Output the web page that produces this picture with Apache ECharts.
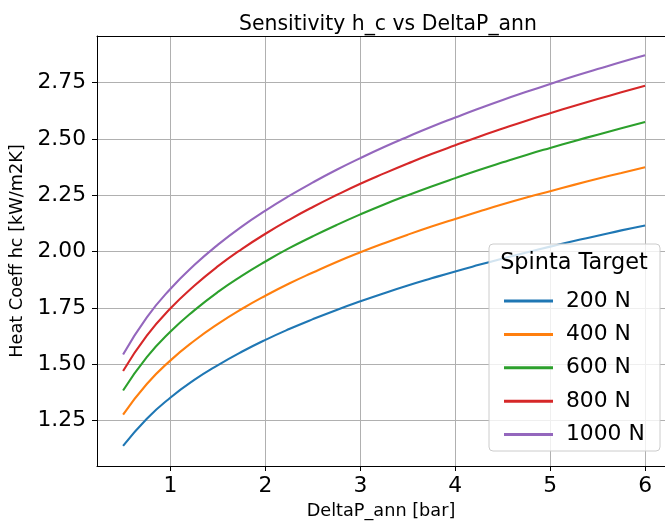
<!DOCTYPE html>
<html>
<head>
<meta charset="utf-8">
<script src="https://cdn.jsdelivr.net/npm/echarts@6/dist/echarts.min.js"></script>
<style>html,body{margin:0;padding:0;background:#fff}#c{width:665px;height:525px}</style>
</head>
<body>
<div id="c"></div>
<script>
const deltaP = [0.5, 0.75, 1.0, 1.25, 1.5, 1.75, 2.0, 2.25, 2.5, 2.75, 3.0, 3.25, 3.5, 3.75, 4.0, 4.25, 4.5, 4.75, 5.0, 5.25, 5.5, 5.75, 6.0];
const seriesNames = ['200 N', '400 N', '600 N', '800 N', '1000 N'];
const h200  = [1.137, 1.258, 1.352, 1.430, 1.496, 1.555, 1.608, 1.656, 1.700, 1.741, 1.779, 1.815, 1.849, 1.881, 1.912, 1.941, 1.969, 1.996, 2.022, 2.047, 2.070, 2.094, 2.116];
const h400  = [1.276, 1.412, 1.517, 1.604, 1.679, 1.745, 1.804, 1.858, 1.907, 1.954, 1.997, 2.037, 2.075, 2.111, 2.145, 2.178, 2.210, 2.240, 2.268, 2.296, 2.323, 2.349, 2.374];
const h600  = [1.383, 1.531, 1.645, 1.739, 1.821, 1.892, 1.956, 2.015, 2.068, 2.118, 2.165, 2.209, 2.250, 2.289, 2.326, 2.362, 2.396, 2.429, 2.460, 2.490, 2.519, 2.547, 2.575];
const h800  = [1.470, 1.627, 1.748, 1.848, 1.935, 2.011, 2.079, 2.141, 2.198, 2.251, 2.301, 2.347, 2.391, 2.433, 2.472, 2.510, 2.546, 2.581, 2.614, 2.646, 2.677, 2.707, 2.736];
const h1000 = [1.543, 1.708, 1.835, 1.940, 2.031, 2.111, 2.182, 2.247, 2.307, 2.363, 2.415, 2.464, 2.510, 2.554, 2.595, 2.635, 2.673, 2.709, 2.744, 2.778, 2.810, 2.842, 2.872];
const xTicks = [1, 2, 3, 4, 5, 6];
const yTicks = [1.25, 1.5, 1.75, 2.0, 2.25, 2.5, 2.75];
const colors = ['#1f77b4', '#ff7f0e', '#2ca02c', '#d62728', '#9467bd'];
const allValues = [h200, h400, h600, h800, h1000];

const font = 'DejaVu Sans';
const xMin = 0.225, xMax = 6.21, yMin = 1.048, yMax = 2.957;
const chart = echarts.init(document.getElementById('c'), null, {renderer: 'canvas'});
chart.setOption({
  animation: false,
  color: colors,
  title: {
    text: 'Sensitivity h_c vs DeltaP_ann',
    left: 383, top: 10, textAlign: 'center',
    textStyle: {fontFamily: font, fontSize: 20.4, fontWeight: 'normal', color: '#000'}
  },
  grid: {left: 97, right: 0, top: 36, bottom: 59},
  xAxis: [{
    type: 'value', min: xMin, max: xMax,
    name: 'DeltaP_ann [bar]', nameLocation: 'middle', nameGap: 35,
    nameTextStyle: {fontFamily: font, fontSize: 17.7, color: '#000'},
    axisLine: {show: true, onZero: false, lineStyle: {color: '#000', width: 1}},
    axisTick: {show: true, length: 5, lineStyle: {color: '#000'}, customValues: xTicks},
    axisLabel: {fontFamily: font, fontSize: 21.8, color: '#000', margin: 9, customValues: xTicks},
    splitLine: {show: true, lineStyle: {color: '#b0b0b0', width: 1}}
  }, {
    type: 'value', position: 'top', min: xMin, max: xMax,
    axisLine: {show: true, onZero: false, lineStyle: {color: '#000', width: 1}},
    axisTick: {show: false}, axisLabel: {show: false}, splitLine: {show: false}
  }],
  yAxis: {
    type: 'value', min: yMin, max: yMax,
    name: 'Heat Coeff hc [kW/m2K]', nameLocation: 'middle', nameGap: 66,
    nameTextStyle: {fontFamily: font, fontSize: 17.7, color: '#000'},
    axisLine: {show: true, onZero: false, lineStyle: {color: '#000', width: 1}},
    axisTick: {show: true, length: 5, lineStyle: {color: '#000'}, customValues: yTicks},
    axisLabel: {fontFamily: font, fontSize: 21.8, color: '#000', margin: 11, customValues: yTicks,
      formatter: v => v.toFixed(2)},
    splitLine: {show: true, lineStyle: {color: '#b0b0b0', width: 1}}
  },
  legend: {
    orient: 'vertical', left: 499, top: 285, itemGap: 11.4,
    icon: 'rect', itemWidth: 49, itemHeight: 3, z: 20,
    textStyle: {fontFamily: font, fontSize: 21.8, color: '#000', padding: [0, 0, 0, 8]},
    data: seriesNames
  },
  graphic: [
    {type: 'rect', z: 15, shape: {x: 489, y: 244, width: 171, height: 207, r: 4},
     style: {fill: 'rgba(255,255,255,0.8)', stroke: '#cccccc', lineWidth: 1}},
    {type: 'text', z: 16, x: 574, y: 263, style: {text: 'Spinta Target', fontFamily: font, fontSize: 22.4,
     fill: '#000', align: 'center', verticalAlign: 'middle'}}
  ],
  series: seriesNames.map((n, i) => ({
    name: n, type: 'line', smooth: true, showSymbol: false, symbol: 'none',
    lineStyle: {width: 2.1, color: colors[i]},
    data: deltaP.map((x, j) => [x, allValues[i][j]])
  }))
});
</script>
</body>
</html>
